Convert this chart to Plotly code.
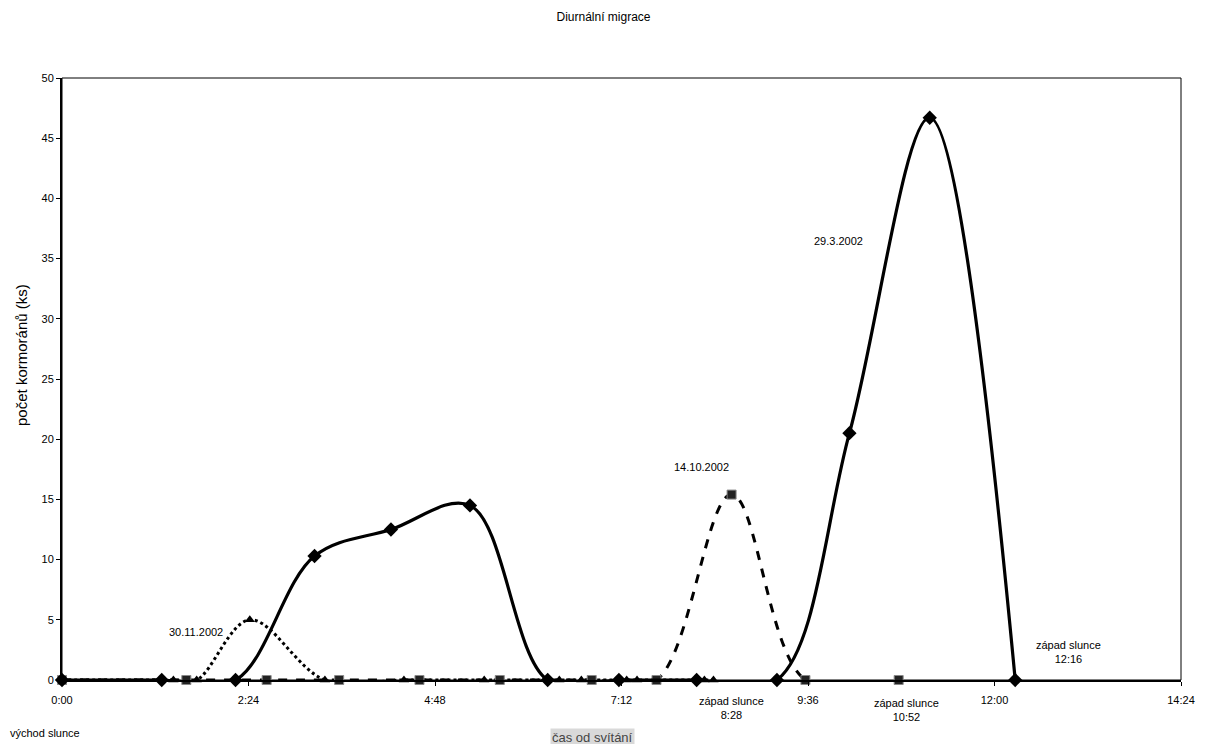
import plotly.graph_objects as go

# time in minutes since sunrise
x_tick_vals = [0, 144, 288, 432, 576, 720, 864]
x_tick_text = ["0:00", "2:24", "4:48", "7:12", "9:36", "12:00", "14:24"]

t_29_3 = [0, 77, 134, 195, 254, 315, 375, 430, 490, 552, 608, 670, 736]
v_29_3 = [0, 0, 0, 10.3, 12.5, 14.5, 0, 0, 0, 0, 20.5, 46.7, 0]

t_30_11 = [0, 86, 104, 145, 203, 264, 326, 384, 401, 436, 444, 496, 503]
v_30_11 = [0, 0, 0, 5.0, 0, 0, 0, 0, 0, 0, 0, 0, 0]

t_14_10 = [0, 96, 158, 214, 276, 338, 409, 459, 517, 574, 646]
v_14_10 = [0, 0, 0, 0, 0, 0, 0, 0, 15.4, 0, 0]

FONT = "Liberation Sans, Arial, sans-serif"

fig = go.Figure()
fig.add_trace(go.Scatter(
    x=t_30_11, y=v_30_11, mode="lines+markers", name="30.11.2002",
    line=dict(color="black", width=3, dash="dot", shape="spline", smoothing=1.0),
    marker=dict(symbol="triangle-up", size=9, color="black"),
    cliponaxis=False))
fig.add_trace(go.Scatter(
    x=t_14_10, y=v_14_10, mode="lines+markers", name="14.10.2002",
    line=dict(color="black", width=3, dash="dash", shape="spline", smoothing=1.0),
    marker=dict(symbol="square", size=9, color="#222222",
                line=dict(color="#888888", width=1)),
    cliponaxis=False))
fig.add_trace(go.Scatter(
    x=t_29_3, y=v_29_3, mode="lines+markers", name="29.3.2002",
    line=dict(color="black", width=3.2, shape="spline", smoothing=1.0),
    marker=dict(symbol="diamond", size=11, color="black"),
    cliponaxis=False))

def ann(text, x, y, size=11, **kw):
    d = dict(text=text, x=x, y=y, xref="paper", yref="paper", showarrow=False,
             font=dict(family=FONT, size=size, color="black"),
             xanchor="center", yanchor="middle")
    d.update(kw)
    return d

annotations = [
    ann("30.11.2002", 0.1195, 0.0797),
    ann("14.10.2002", 0.5718, 0.3538),
    ann("29.3.2002", 0.694, 0.729),
    ann("západ slunce<br>12:16", 0.8992, 0.0465),
    ann("západ slunce<br>8:28", 0.5986, -0.0465),
    ann("západ slunce<br>10:52", 0.7547, -0.0498),
    ann("východ slunce", -0.0483, -0.088, xanchor="left"),
    ann("čas od svítání", 0.4737, -0.0947, bgcolor="#d9d9d9",
        font=dict(family=FONT, size=13, color="#444444")),
    ann("počet kormoránů (ks)", -0.0357, 0.54, size=15, textangle=-90),
]

fig.update_layout(
    width=1207, height=744,
    margin=dict(l=62, r=24, t=78, b=64),
    paper_bgcolor="white", plot_bgcolor="white",
    showlegend=False,
    title=dict(text="Diurnální migrace", x=0.5, xanchor="center",
               y=1 - 17 / 744, yanchor="middle",
               font=dict(family=FONT, size=12, color="black")),
    font=dict(family=FONT, size=11, color="black"),
    annotations=annotations,
    shapes=[dict(type="rect", xref="paper", yref="paper", x0=0, y0=0, x1=1, y1=1,
                 line=dict(color="black", width=1), layer="below")],
    xaxis=dict(range=[0, 864], tickvals=x_tick_vals, ticktext=x_tick_text,
               showgrid=False, zeroline=False, showline=True, linecolor="black",
               linewidth=2, ticks="outside", ticklen=4, tickcolor="black",
               ticklabelstandoff=5,
               tickfont=dict(family=FONT, size=11, color="black")),
    yaxis=dict(range=[0, 50], tickvals=list(range(0, 51, 5)),
               showgrid=False, zeroline=False, showline=True, linecolor="black",
               linewidth=2, ticks="outside", ticklen=4, tickcolor="black",
               tickfont=dict(family=FONT, size=11, color="black")),
)

fig.write_html("out.html")
